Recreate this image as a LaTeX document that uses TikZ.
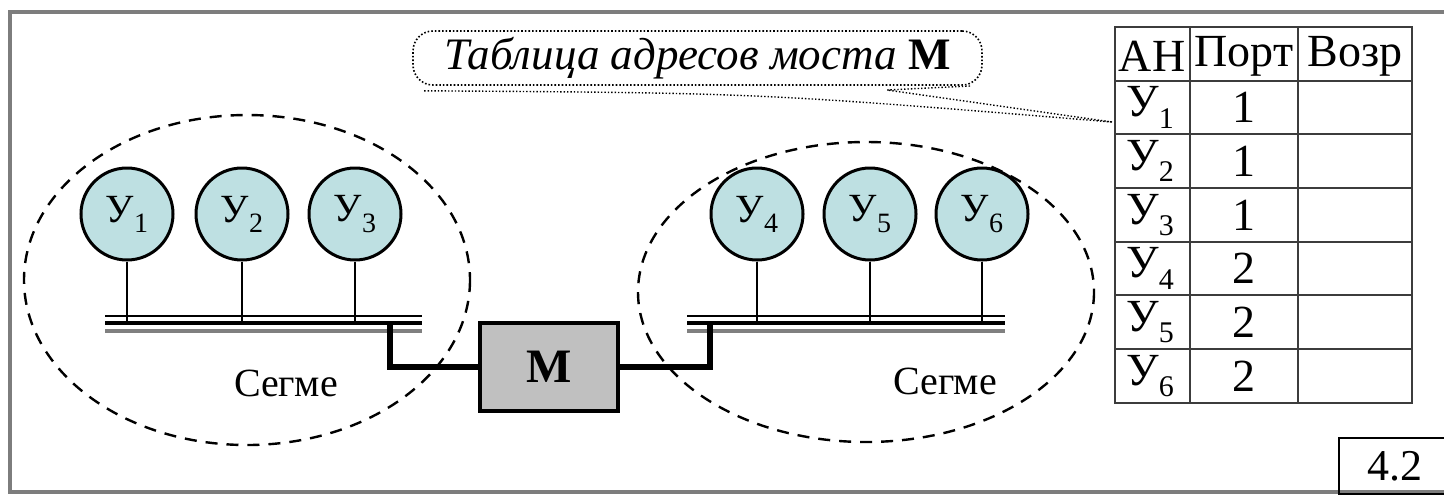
\documentclass[tikz,border=0pt]{standalone}
\usepackage{fontspec}
\setmainfont{Liberation Serif}
\usetikzlibrary{calc}

\definecolor{nodefill}{RGB}{190,224,226}
\definecolor{bridgefill}{RGB}{192,192,192}
\definecolor{framegray}{RGB}{125,125,125}
\definecolor{gridgray}{RGB}{60,60,60}

% lowered index digit after a letter
\newcommand{\lowidx}[2][13]{\raisebox{-0.55ex}{\fontsize{#1}{#1}\selectfont #2}}

\tikzset{
  station/.style={circle, draw, line width=1.5pt, fill=nodefill,
    minimum size=46pt, inner sep=0pt, font=\fontsize{20}{20}\selectfont},
  stem/.style={line width=1.2pt},
  link/.style={line width=2.8pt},
  segline/.style={dashed, line width=1.2pt, dash pattern=on 6pt off 4.5pt},
  cell/.style={inner sep=0pt, font=\fontsize{23}{23}\selectfont},
  seglabel/.style={font=\fontsize{20}{20}\selectfont},
  tableline/.style={gridgray, line width=1.4pt},
  notepath/.style={densely dotted, line width=0.7pt}
}

\begin{document}
\begin{tikzpicture}[x=0.5pt,y=-0.5pt]
\useasboundingbox (0,0) rectangle (1444,494);

% outer frame
\draw[framegray, line width=1.6pt] (1450,12) -- (10,12) -- (10,492) -- (1450,492);

% segments
\draw[segline] (247,280) ellipse [x radius=223, y radius=165];
\draw[segline] (866,292) ellipse [x radius=228, y radius=150];

% stations
\node[station] (u1) at (127,214) {У\lowidx[14]{1}};
\node[station] (u2) at (242,214) {У\lowidx[14]{2}};
\node[station] (u3) at (355,214) {У\lowidx[14]{3}};
\node[station] (u4) at (757,214) {У\lowidx[14]{4}};
\node[station] (u5) at (870,214) {У\lowidx[14]{5}};
\node[station] (u6) at (982,214) {У\lowidx[14]{6}};

% buses
\coordinate (busAl) at (105,323);
\coordinate (busAr) at (422,323);
\coordinate (busBl) at (687,323);
\coordinate (busBr) at (1005,323);
\foreach \a/\b in {busAl/busAr, busBl/busBr}{
  \draw[line width=1.1pt] ($(\a)+(0,-7)$) -- ($(\b)+(0,-7)$);
  \draw[line width=2.4pt] (\a) -- (\b);
  \draw[gray, line width=2pt] ($(\a)+(0,8)$) -- ($(\b)+(0,8)$);
}

% station drops
\foreach \u in {u1,u2,u3}
  \draw[stem] (\u.south) -- (\u.south |- busAl);
\foreach \u in {u4,u5,u6}
  \draw[stem] (\u.south) -- (\u.south |- busBl);

% bridge
\node[draw, line width=1.8pt, fill=bridgefill, minimum width=69pt,
  minimum height=44pt, font=\bfseries\fontsize{24}{24}\selectfont]
  (br) at (549,367) {М};
\coordinate (tapA) at (390,323);
\coordinate (tapB) at (710,323);
\draw[link] (tapA) |- (br.west);
\draw[link] (br.east) -| (tapB);

% segment labels
\node[seglabel] (segA) at (286,383) {Сегме};
\node[seglabel] (segB) at (945,381) {Сегме};

% address table
\draw[tableline] (1115,27) rectangle (1412,403);
\foreach \y in {81,134,188,242,295,349}
  \draw[tableline] (1115,\y) -- (1412,\y);
\draw[tableline] (1190,27) -- (1190,403);
\draw[tableline] (1298,27) -- (1298,403);

\node[cell] (hA) at (1152,56) {АН};
\node[cell] (hP) at (1244,56) {Порт};
\node[cell] (hV) at (1355,56) {Возр};
\foreach \i/\y/\p in {1/107.5/1, 2/161/1, 3/215/1, 4/268.5/2, 5/322/2, 6/376/2}{
  \node[cell] (a\i) at (1150,\y) {У\lowidx[15]{\i}};
  \node[cell] (p\i) at (1244,\y) {\p};
}

% table callout
\node[draw, densely dotted, line width=0.8pt, rounded corners=10pt,
  minimum width=284.5pt, minimum height=27pt, inner sep=0pt,
  font=\itshape\fontsize{22.5}{22.5}\selectfont]
  (note) at (697.5,58) {Таблица адресов моста \textup{\bfseries М}};
\coordinate (tip) at (1112,122);
\draw[notepath] ($(note.south west)+(12,5)$) .. controls (760,93) .. (tip);
\draw[notepath] (970,86) -- (887,90) -- (tip);

% figure number
\node[draw, line width=1pt, anchor=north west, minimum width=56pt,
  minimum height=28pt, inner sep=0pt, font=\fontsize{22}{22}\selectfont]
  (fig) at (1338,437) {4.2};
\end{tikzpicture}
\end{document}
